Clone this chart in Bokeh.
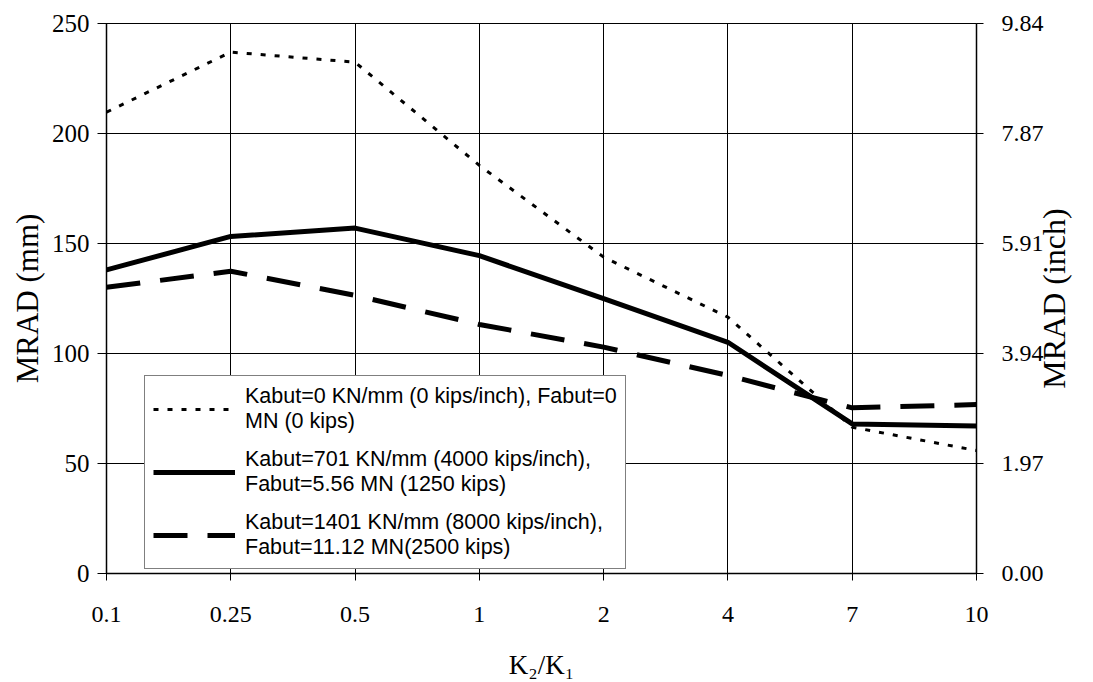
import math
from bokeh.plotting import figure
from bokeh.models import (Range1d, LinearAxis, FixedTicker, Legend, LegendItem)
from bokeh.embed import file_html
from bokeh.resources import INLINE

# ---- data ----
categories = ["0.1", "0.25", "0.5", "1", "2", "4", "7", "10"]
kabut_0 = [209.7, 237.0, 232.4, 185.5, 143.8, 116.5, 66.5, 55.9]
kabut_701 = [138.0, 153.2, 157.0, 144.5, 124.9, 105.1, 68.0, 67.1]
kabut_1401 = [130.1, 137.4, 126.4, 113.2, 102.9, 90.0, 75.3, 76.8]
left_ticks = [0, 50, 100, 150, 200, 250]
right_tick_labels = ["0.00", "1.97", "3.94", "5.91", "7.87", "9.84"]
labels = [
    "Kabut=0 KN/mm (0 kips/inch), Fabut=0\nMN (0 kips)",
    "Kabut=701 KN/mm (4000 kips/inch),\nFabut=5.56 MN (1250 kips)",
    "Kabut=1401 KN/mm (8000 kips/inch),\nFabut=11.12 MN(2500 kips)",
]
right_title = "MRAD (inch)"

x = list(range(len(categories)))
MM_PER_INCH = 25.4

SERIF = "Liberation Serif"
SANS = "Liberation Sans"

p = figure(width=1093, height=682, output_backend="svg", toolbar_location=None,
           x_range=Range1d(0, len(categories) - 1), y_range=Range1d(0, 250),
           min_border_left=106, min_border_right=117, min_border_top=23,
           min_border_bottom=109)
p.background_fill_color = "white"
p.border_fill_color = "white"
p.outline_line_color = "black"
p.outline_line_width = 1

# left axis
p.yaxis.ticker = FixedTicker(ticks=left_ticks)
p.yaxis.axis_label = "MRAD (mm)"
# x axis
p.xaxis.ticker = FixedTicker(ticks=x)
p.xaxis.major_label_overrides = {i: c for i, c in zip(x, categories)}
p.xaxis.axis_label = "K\u2082/K\u2081"

# right axis (inches)
p.extra_y_ranges = {"inch": Range1d(0, 250 / MM_PER_INCH),
                    "title": Range1d(0, 1)}
raxis = LinearAxis(y_range_name="inch")
rticks = [t / MM_PER_INCH for t in left_ticks]
raxis.ticker = FixedTicker(ticks=rticks)
raxis.major_label_overrides = {t: l for t, l in zip(rticks, right_tick_labels)}
p.add_layout(raxis, "right")

for ax in [p.xaxis[0], p.yaxis[0], raxis]:
    ax.axis_line_color = "black"
    ax.axis_line_width = 1.5
    ax.major_tick_line_color = "black"
    ax.minor_tick_line_color = None
    ax.major_label_text_font = SERIF
    ax.major_label_text_font_size = "24px"
    ax.major_label_text_color = "black"
    ax.axis_label_text_font = SERIF
    ax.axis_label_text_font_style = "normal"
    ax.axis_label_text_color = "black"

p.yaxis[0].axis_label_text_font_size = "31px"
p.xaxis[0].axis_label_text_font_size = "27px"
p.yaxis[0].major_label_text_font_size = "25px"

p.yaxis[0].major_tick_out = 9
p.yaxis[0].major_tick_in = 6
p.yaxis[0].major_label_standoff = 8
p.yaxis[0].axis_label_standoff = 4
raxis.major_tick_out = 7
raxis.major_tick_in = 0
raxis.major_label_standoff = 18
p.xaxis[0].major_tick_out = 7
p.xaxis[0].major_tick_in = 2
p.xaxis[0].major_label_standoff = 26
p.xaxis[0].axis_label_standoff = 25

# right-hand title, reading bottom-to-top and centred on the frame:
# drawn as the single rotated label of a bare axis; the text starts at the tick,
# so the tick sits half the text length below the middle of the frame.
TITLE_START = 0.336
taxis = LinearAxis(y_range_name="title", ticker=FixedTicker(ticks=[TITLE_START]),
                   major_label_overrides={TITLE_START: right_title},
                   major_label_orientation=math.pi / 2,
                   major_label_text_font=SERIF, major_label_text_font_size="32px",
                   major_label_text_color="black", major_label_standoff=8,
                   axis_line_color=None, major_tick_line_color=None,
                   minor_tick_line_color=None, major_tick_out=0, major_tick_in=0)
p.add_layout(taxis, "right")

p.xgrid.ticker = FixedTicker(ticks=x)
p.ygrid.ticker = FixedTicker(ticks=left_ticks)
for g in [p.xgrid[0], p.ygrid[0]]:
    g.grid_line_color = "black"
    g.grid_line_width = 1

r0 = p.line(x, kabut_0, line_color="black", line_width=3, line_dash="5 9")
r1 = p.line(x, kabut_701, line_color="black", line_width=5)
r2 = p.line(x, kabut_1401, line_color="black", line_width=5, line_dash="34 20")

legend = Legend(items=[LegendItem(label=labels[0], renderers=[r0]),
                       LegendItem(label=labels[1], renderers=[r1]),
                       LegendItem(label=labels[2], renderers=[r2])],
                location=(38, 4), margin=0, padding=8, spacing=13,
                glyph_width=82, glyph_height=26, label_standoff=10,
                label_text_font=SANS, label_text_font_size="21.5px",
                label_text_color="black",
                border_line_color="black", border_line_width=1,
                background_fill_color="white", background_fill_alpha=1)
p.add_layout(legend)

open("out.html", "w").write(file_html(p, INLINE))
